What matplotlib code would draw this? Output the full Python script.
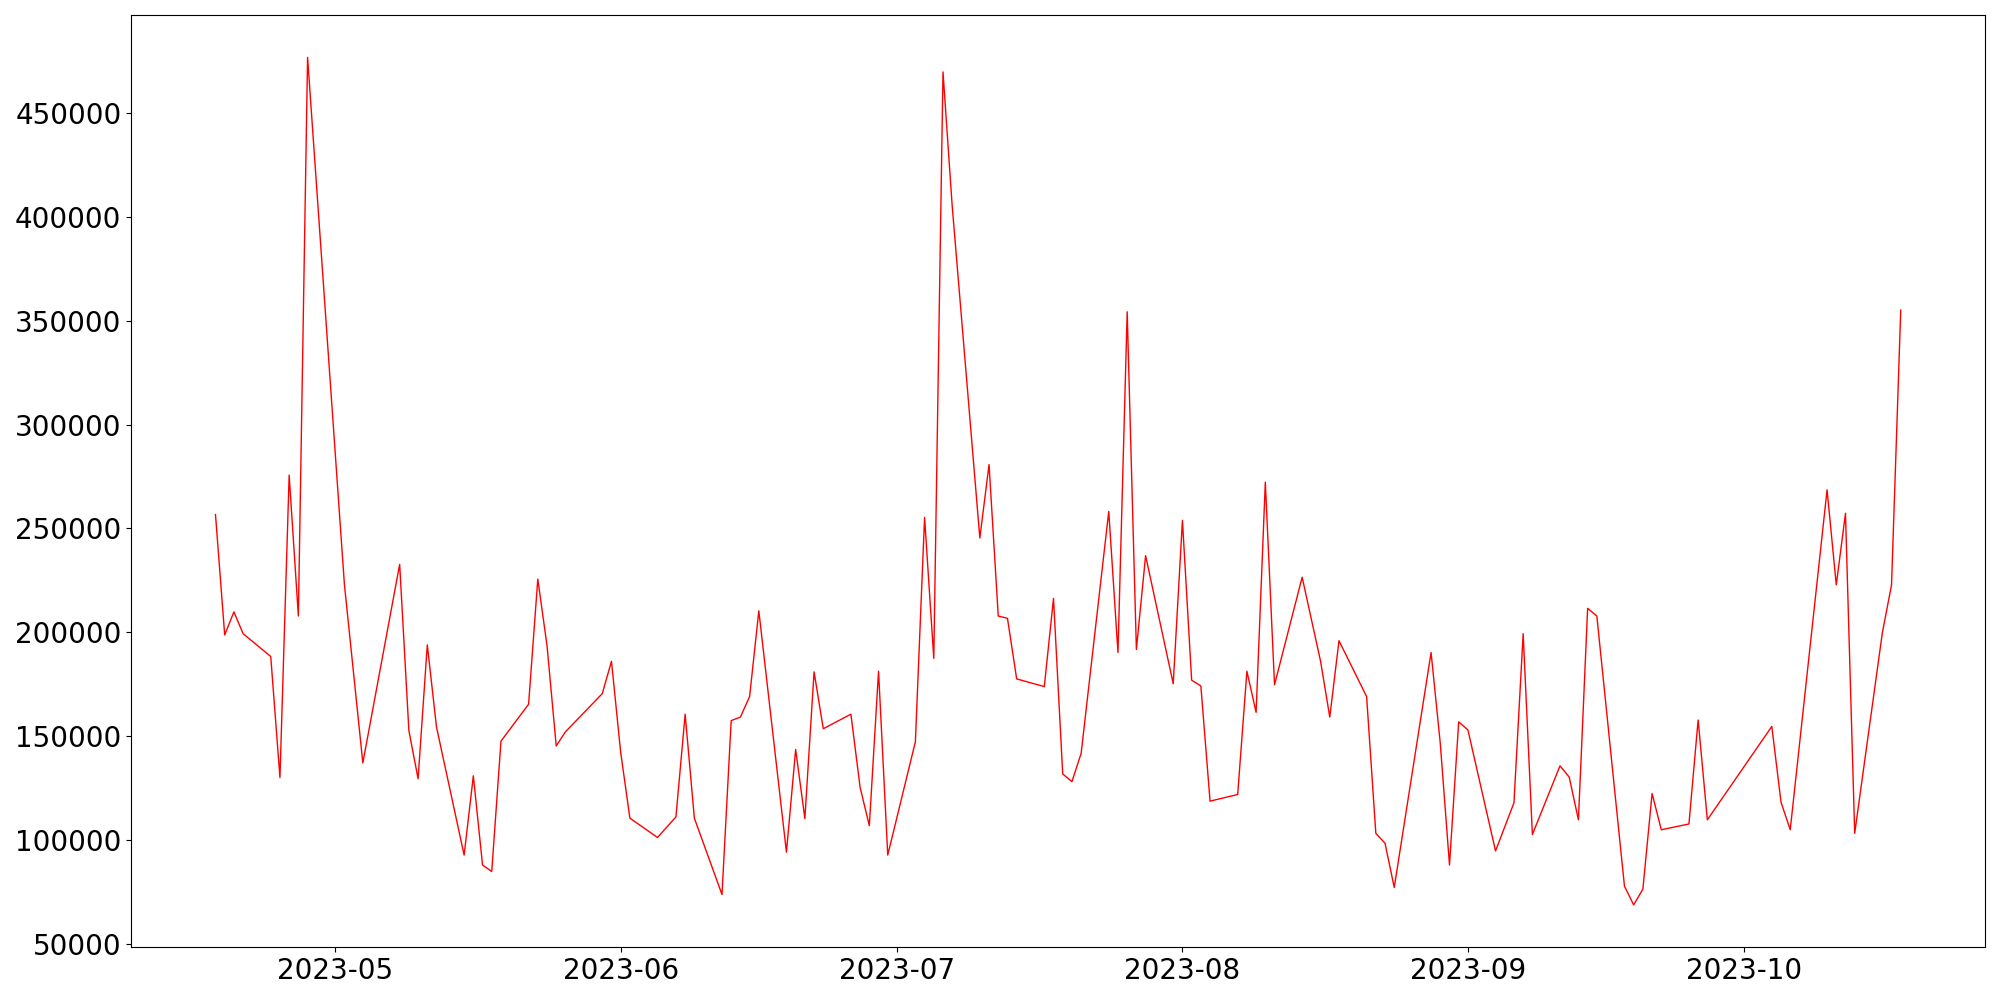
import pandas as pd
import matplotlib
matplotlib.use('Agg')
import matplotlib.pyplot as plt

# daily values (gaps are where the line has no vertex)
dates = [
    '2023-04-18', '2023-04-19', '2023-04-20', '2023-04-21', '2023-04-24',
    '2023-04-25', '2023-04-26', '2023-04-27', '2023-04-28', '2023-05-02',
    '2023-05-04', '2023-05-08', '2023-05-09', '2023-05-10', '2023-05-11',
    '2023-05-12', '2023-05-15', '2023-05-16', '2023-05-17', '2023-05-18',
    '2023-05-19', '2023-05-22', '2023-05-23', '2023-05-24', '2023-05-25',
    '2023-05-26', '2023-05-30', '2023-05-31', '2023-06-01', '2023-06-02',
    '2023-06-05', '2023-06-07', '2023-06-08', '2023-06-09', '2023-06-12',
    '2023-06-13', '2023-06-14', '2023-06-15', '2023-06-16', '2023-06-19',
    '2023-06-20', '2023-06-21', '2023-06-22', '2023-06-23', '2023-06-26',
    '2023-06-27', '2023-06-28', '2023-06-29', '2023-06-30', '2023-07-03',
    '2023-07-04', '2023-07-05', '2023-07-06', '2023-07-07', '2023-07-10',
    '2023-07-11', '2023-07-12', '2023-07-13', '2023-07-14', '2023-07-17',
    '2023-07-18', '2023-07-19', '2023-07-20', '2023-07-21', '2023-07-24',
    '2023-07-25', '2023-07-26', '2023-07-27', '2023-07-28', '2023-07-31',
    '2023-08-01', '2023-08-02', '2023-08-03', '2023-08-04', '2023-08-07',
    '2023-08-08', '2023-08-09', '2023-08-10', '2023-08-11', '2023-08-14',
    '2023-08-16', '2023-08-17', '2023-08-18', '2023-08-21', '2023-08-22',
    '2023-08-23', '2023-08-24', '2023-08-28', '2023-08-29', '2023-08-30',
    '2023-08-31', '2023-09-01', '2023-09-04', '2023-09-06', '2023-09-07',
    '2023-09-08', '2023-09-11', '2023-09-12', '2023-09-13', '2023-09-14',
    '2023-09-15', '2023-09-18', '2023-09-19', '2023-09-20', '2023-09-21',
    '2023-09-22', '2023-09-25', '2023-09-26', '2023-09-27', '2023-10-04',
    '2023-10-05', '2023-10-06', '2023-10-10', '2023-10-11', '2023-10-12',
    '2023-10-13', '2023-10-16', '2023-10-17', '2023-10-18',
]
values = [
    256700, 198700, 209800, 199300, 188300,
    130000, 275700, 207800, 477000, 223000,
    137000, 232700, 152600, 129400, 193900,
    154300, 92600, 130800, 87800, 84700,
    147500, 165300, 225600, 193600, 145200,
    152000, 170400, 186000, 142100, 110400,
    101100, 111000, 160500, 110400, 73600,
    157400, 159100, 169000, 210300, 94000,
    143500, 110200, 180900, 153500, 160500,
    125200, 106800, 181200, 92600, 147200,
    255300, 187400, 470000, 405300, 245400,
    280800, 207800, 206700, 177500, 173800,
    216300, 131700, 128000, 141600, 258200,
    190200, 354400, 191700, 236900, 175200,
    253900, 176900, 174100, 118600, 121800,
    181200, 161400, 272300, 174700, 226500,
    186000, 159100, 195900, 169000, 103100,
    98300, 77000, 190200, 146400, 87800,
    156800, 152900, 94600, 117800, 199300,
    102500, 135600, 130200, 109600, 211500,
    207800, 77600, 68600, 76200, 122300,
    104800, 107600, 157700, 109600, 154600,
    118100, 104800, 268600, 222800, 257300,
    103100, 199600, 222800, 355200,
]

if __name__ == '__main__':
    x = pd.to_datetime(dates)

    fig, ax = plt.subplots(figsize=(20, 10), dpi=100)
    ax.plot(x, values, color='red', linewidth=1)
    ax.tick_params(axis='both', labelsize=20)

    plt.tight_layout()
    fig.savefig('out.png', dpi=100)
